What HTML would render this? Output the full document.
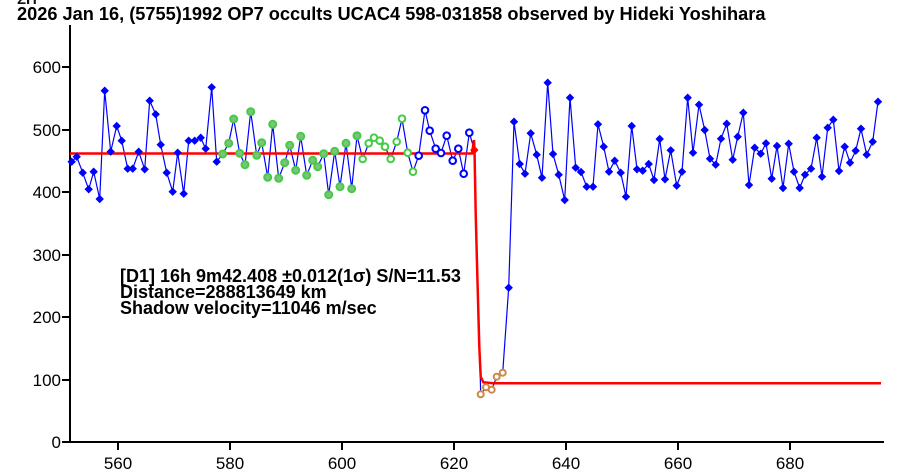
<!DOCTYPE html><html><head><style>body{margin:0;background:#fff}svg{display:block}text{font-family:"Liberation Sans",Arial,sans-serif}</style></head><body>
<svg id="s" width="910" height="472" xmlns="http://www.w3.org/2000/svg">
<text x="17" y="4" font-size="15" font-weight="bold" fill="#111">ΣΠ</text>
<text x="17" y="20" font-size="18.2" font-weight="bold" fill="#000">2026 Jan 16, (5755)1992 OP7 occults UCAC4 598-031858 observed by Hideki Yoshihara</text>
<g stroke="#000" stroke-width="2" fill="none">
<path d="M70,25V442M62,442H884"/>
<path d="M62,67H70M62,130H70M62,192H70M62,255H70M62,317H70M62,380H70M118,442V450M230,442V450M342,442V450M454,442V450M566,442V450M678,442V450M790,442V450"/>
</g>
<g font-size="17" fill="#000" text-anchor="end">
<text x="61" y="73">600</text><text x="61" y="136">500</text><text x="61" y="198">400</text><text x="61" y="261">300</text><text x="61" y="323">200</text><text x="61" y="386">100</text><text x="61" y="448">0</text></g>
<g font-size="17" fill="#000" text-anchor="middle">
<text x="118" y="469">560</text><text x="230" y="469">580</text><text x="342" y="469">600</text><text x="454" y="469">620</text><text x="566" y="469">640</text><text x="678" y="469">660</text><text x="790" y="469">680</text></g>
<g font-size="18" font-weight="bold" fill="#000">
<text x="120" y="282">[D1] 16h 9m42.408 ±0.012(1σ) S/N=11.53</text>
<text x="120" y="298">Distance=288813649 km</text>
<text x="120" y="314">Shadow velocity=11046 m/sec</text></g>
<g id="g"></g>
</svg>
<script>
var B=[[71.7,161.7],[76.7,156.7],[82.7,172.7],[88.7,189.3],[93.7,171.7],[99.7,199],[104.7,90.7],[110.7,151.7],[116.7,126],[121.7,140.7],[127.7,168.7],[132.7,168.7],[138.7,151.7],[144.7,169.3],[149.7,100.7],[155.7,114.3],[160.7,144.7],[166.7,172.7],[172.7,191.7],[177.7,152.7],[183.7,193.7],[188.7,140.7],[194.7,140.7],[200.7,137.7],[205.7,148.7],[211.7,87.3],[216.7,161.7]];
var G=[[222.7,154],[228.7,143.3],[233.7,119],[239.7,153.3],[245,164.7],[250.7,111.7],[256.7,155.3],[261.7,142.7],[267.7,177.3],[272.7,124.3],[278.7,178.3],[284.7,162.7],[289.7,145.3],[295.7,170.3],[300.7,136.3],[306.7,175.3],[312.7,160.3],[317.7,166.7],[323.7,153.7],[328.7,194.7],[334.7,151.3],[340,186.7],[346,143.3],[351.7,188.7],[357,135.7]];
var GH=[[362.7,159],[368.7,143.3],[374,137.7],[379.7,140.7],[385,146.7],[390.7,159],[396.7,141.7],[402,118.7],[407.7,152.7],[413,171.7]];
var BH=[[418.7,155.7],[425,110.3],[429.7,130.7],[435.7,148.7],[441,153],[446.7,135.7],[452.7,160.7],[458.3,148.7],[463.7,173.7],[469.3,132.7]];
var R=[[474.3,150]];
var O=[[480.7,394.3],[486,387.3],[491.7,389.7],[496.7,376.7],[502.7,372.7]];
var A=[[508.7,287.7],[514,121.7],[519.7,164],[525,173.7],[530.7,133.3],[536.7,154.7],[542,177.7],[547.7,82.7],[553,154],[558.7,174.7],[564.7,200],[570,97.7],[575.7,167.7],[581,172],[586.7,186.7],[593,186.7],[598,124.3],[603.7,146.7],[609,171.7],[614.7,160.7],[620.7,172.7],[626,196.7],[631.7,126],[637,169.3],[642.7,170.7],[648.7,164],[654,180],[659.7,139],[665,179.3],[670.7,150.3],[676.7,185.7],[682,171.7],[687.7,97.7],[693,152.7],[699,104.7],[704.7,130],[710,158.7],[715.7,164.7],[721,138.7],[726.7,123.7],[732.7,159.7],[737.7,136.7],[743.3,112.7],[749,185],[754.7,147.7],[760.7,153.7],[766,143.3],[771.7,178.7],[777,146],[783,188],[788.7,143.7],[794,171.7],[799.7,188],[805,174.7],[811,168.7],[816.7,137.7],[822,176.7],[827.7,127.7],[833.3,119.7],[839,171],[844.7,146.7],[850,162.7],[855.7,150.7],[861,128.7],[866.7,154.7],[872.7,141.7],[878,101.7]];
var all=B.concat(G,GH,BH,R,O,A);
var h='<polyline fill="none" stroke="#0000ff" stroke-width="1.2" points="'+all.map(p=>p.join(',')).join(' ')+'"/>';
h+='<polyline fill="none" stroke="#ff0000" stroke-width="2.5" points="70,153.5 472,153.5 474,140 474.5,150 475.7,213 476.7,252 478,300 479.3,346.7 480.7,376.7 483.3,382.3 493,383.3 881,383.3"/>';
function dia(p,c){return '<path d="M'+p[0]+','+(p[1]-3.5)+'l3.5,3.5l-3.5,3.5l-3.5,-3.5z" fill="'+c+'" stroke="'+c+'" stroke-width="1"/>';}
function oct(p,f,s,r){return '<circle cx="'+p[0]+'" cy="'+p[1]+'" r="'+r+'" fill="'+f+'" stroke="'+s+'" stroke-width="2"/>';}
B.concat(A).forEach(p=>h+=dia(p,'#0000ff'));
G.forEach(p=>h+=oct(p,'#80c080','#44cc44',3.5));
GH.forEach(p=>h+=oct(p,'#fff','#44cc44',3.3));
BH.forEach(p=>h+=oct(p,'#fff','#0000ff',3.3));
O.forEach(p=>h+=oct(p,'#fff','#cc8844',3));
h+=dia(R[0],'#ff0000');
document.getElementById('g').innerHTML=h;
</script>
</body></html>
